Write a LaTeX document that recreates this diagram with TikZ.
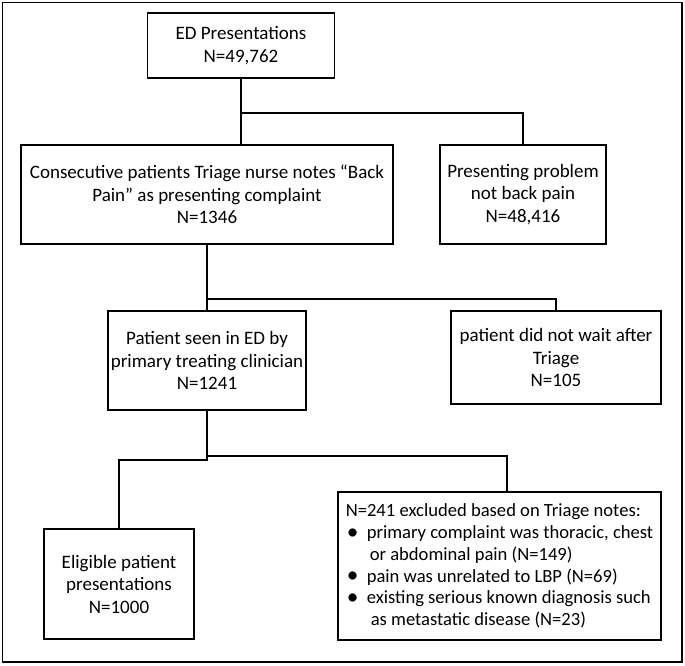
\documentclass[tikz,border=0pt]{standalone}
\usepackage{fontspec}
\setmainfont{Carlito}
\newcommand{\mybul}{\hspace*{1pt}\makebox[20pt][l]{\raisebox{-0.6pt}{\scalebox{1.25}{•}}}}
\begin{document}
\begin{tikzpicture}[x=1pt,y=-1pt,
  box/.style={draw, line width=1.5pt, inner sep=0pt, align=center, anchor=center},
  conn/.style={line width=1.5pt}]
\fontsize{19}{22.5}\selectfont
\useasboundingbox (0,0) rectangle (685,665);
\draw[line width=1.5pt] (2.5,2.5) rectangle (682,662);
\node[box, minimum width=187pt, minimum height=65pt] (ed) at (241,45.5) {ED Presentations\\N=49,762};
\node[box, minimum width=372pt, minimum height=99pt] (cons) at (207,194.5) {Consecutive patients Triage nurse notes “Back\\Pain” as presenting complaint\\N=1346};
\node[box, minimum width=166pt, minimum height=99pt] (pres) at (523,194.5) {Presenting problem\\not back pain\\N=48,416};
\node[box, minimum width=198pt, minimum height=99pt] (pat) at (207,360.5) {Patient seen in ED by\\primary treating clinician\\N=1241};
\node[box, minimum width=210pt, minimum height=93pt] (dnw) at (556,357.5) {patient did not wait after\\Triage\\N=105};
\node[box, minimum width=150pt, minimum height=110pt] (elig) at (119,584) {Eligible patient\\presentations\\N=1000};
\node[box, align=left, font=\fontsize{18.6}{21.7}\selectfont, minimum width=323pt, minimum height=148pt] (exc) at (499.5,566) {N=241 excluded based on Triage notes:\\
\mybul primary complaint was thoracic, chest\\
\hspace*{24pt}or abdominal pain (N=149)\\
\mybul pain was unrelated to LBP (N=69)\\
\mybul existing serious known diagnosis such\\
\hspace*{25pt}as metastatic disease (N=23)};
\coordinate (j1) at (241,113);
\coordinate (j2) at (207,299);
\coordinate (j3) at (207,456);
\coordinate (j4) at (207,460);
\coordinate (e1) at (507,456);
\draw[conn] (ed.south) -- (ed.south |- cons.north);
\draw[conn] (j1) -| (pres.north);
\draw[conn] (cons.south) -- (pat.north);
\draw[conn] (j2) -| (dnw.north);
\draw[conn] (pat.south) -- (j4) -| (elig.north);
\draw[conn] (j3) -- (e1) -- (e1 |- exc.north);
\end{tikzpicture}
\end{document}
